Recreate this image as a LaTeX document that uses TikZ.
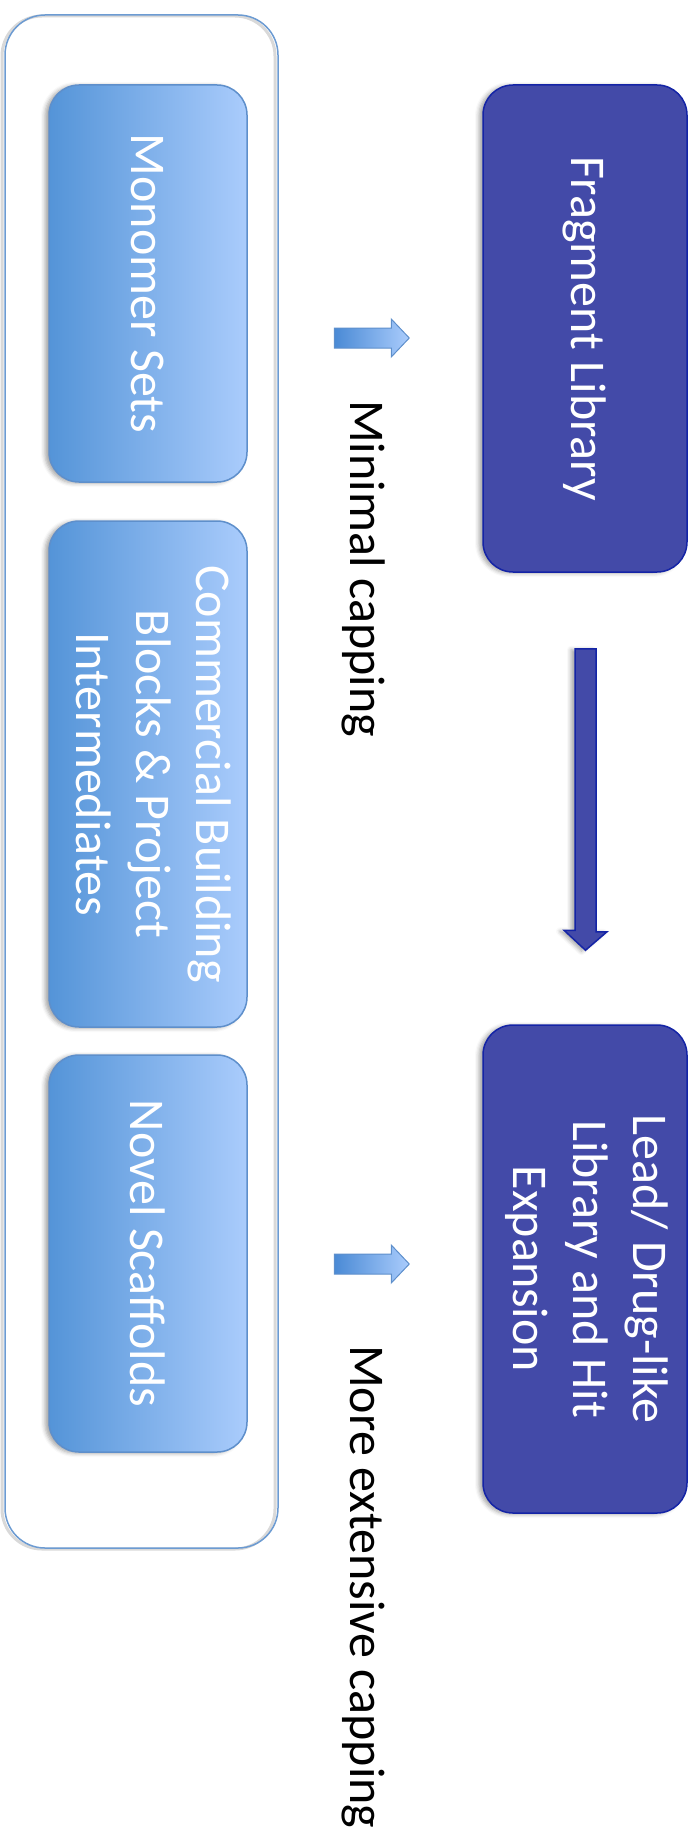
\documentclass[tikz,border=0pt]{standalone}
\usepackage{fontspec}
\setmainfont{Carlito}
\usepackage{graphicx}
\usetikzlibrary{shadows.blur,calc}

\definecolor{lbL}{HTML}{5494D8}
\definecolor{lbR}{HTML}{AACCFC}
\definecolor{lbBorder}{HTML}{5E8FCB}
\definecolor{dkFill}{HTML}{434AA8}
\definecolor{dkBorder}{HTML}{1424A6}
\definecolor{outerBorder}{HTML}{6C9BD2}
\definecolor{arrL}{HTML}{4A8AD5}
\definecolor{arrR}{HTML}{AACCFC}

\tikzset{
  bigfont/.style={font=\fontsize{50}{60}\selectfont},
  softshadow/.style={blur shadow={shadow xshift=-4pt, shadow yshift=-1pt, shadow blur radius=4pt, shadow opacity=35}},
  lbox/.style={draw=lbBorder, line width=1.5pt, rounded corners=30pt,
    left color=lbL, right color=lbR, minimum width=198pt, inner sep=0pt,
    text=white, bigfont, softshadow},
  dbox/.style={draw=dkBorder, line width=1.5pt, rounded corners=30pt,
    fill=dkFill, minimum width=204pt, minimum height=487pt, inner sep=0pt,
    text=white, bigfont, softshadow},
  grpbox/.style={draw=outerBorder, line width=1.5pt, rounded corners=40pt,
    minimum width=273pt, minimum height=1533pt, inner sep=0pt},
  sarrow/.style={draw=lbBorder, line width=1pt, left color=arrL, right color=arrR},
  darrow/.style={draw=dkBorder, line width=1.5pt, fill=dkFill, softshadow},
  caplabel/.style={bigfont, text=black, rotate=-90, inner sep=0pt, anchor=base west},
}

\begin{document}
\begin{tikzpicture}[x=1pt,y=-1pt]
\useasboundingbox (0,0) rectangle (700,1843);

% group outline with its soft outline shadow
\draw[black!25, line width=3pt, rounded corners=40pt, opacity=0.6]
  (2,16) rectangle (275,1549);
\node[grpbox] (grp) at (141.5,781.5) {};

% left column
\node[lbox, minimum height=397pt] (mono) at (148,283.5)
  {\rotatebox{-90}{Monomer Sets}};
\node[lbox, minimum height=506pt] (comm) at (148,774)
  {\rotatebox{-90}{\begin{tabular}{@{}c@{}}Commercial Building\\Blocks \& Project\\Intermediates\end{tabular}}};
\node[lbox, minimum height=397pt] (novel) at (148,1253.5)
  {\rotatebox{-90}{Novel Scaffolds}};

% right column
\node[dbox] (frag) at (585,328.5)
  {\rotatebox{-90}{Fragment Library}};
\node[dbox, minimum height=488pt] (lead) at (585,1269)
  {\rotatebox{-90}{\begin{tabular}{@{}c@{}}Lead/ Drug-like\\Library and Hit\\Expansion\end{tabular}}};

% small arrows
\coordinate (a1) at ($(frag.west)+(-148,9.5)$);
\coordinate (a2) at ($(lead.west)+(-148,-5)$);
\foreach \c in {a1,a2}{
  \path[sarrow] (\c) ++(0,-10) -- ++(57,0) -- ++(0,-9) -- ++(18,19)
    -- ++(-18,19) -- ++(0,-9) -- ++(-57,0) -- cycle;
}

% down arrow from fragment library to lead library
\coordinate (d1) at ($(frag.south)+(0.5,76)$);
\coordinate (d2) at ($(lead.north)+(0.5,-74)$);
\path[darrow] (d1) ++(-10.5,0) -- ++(21,0) -- ++(0,283) -- ++(11,0)
  -- (d2) -- ++(-21.5,-20) -- ++(11,0) -- cycle;

% labels
\node[caplabel] (cap1) at (350,400) {Minimal capping};
\node[caplabel] (cap2) at (350,1345) {More extensive capping};
\end{tikzpicture}
\end{document}
